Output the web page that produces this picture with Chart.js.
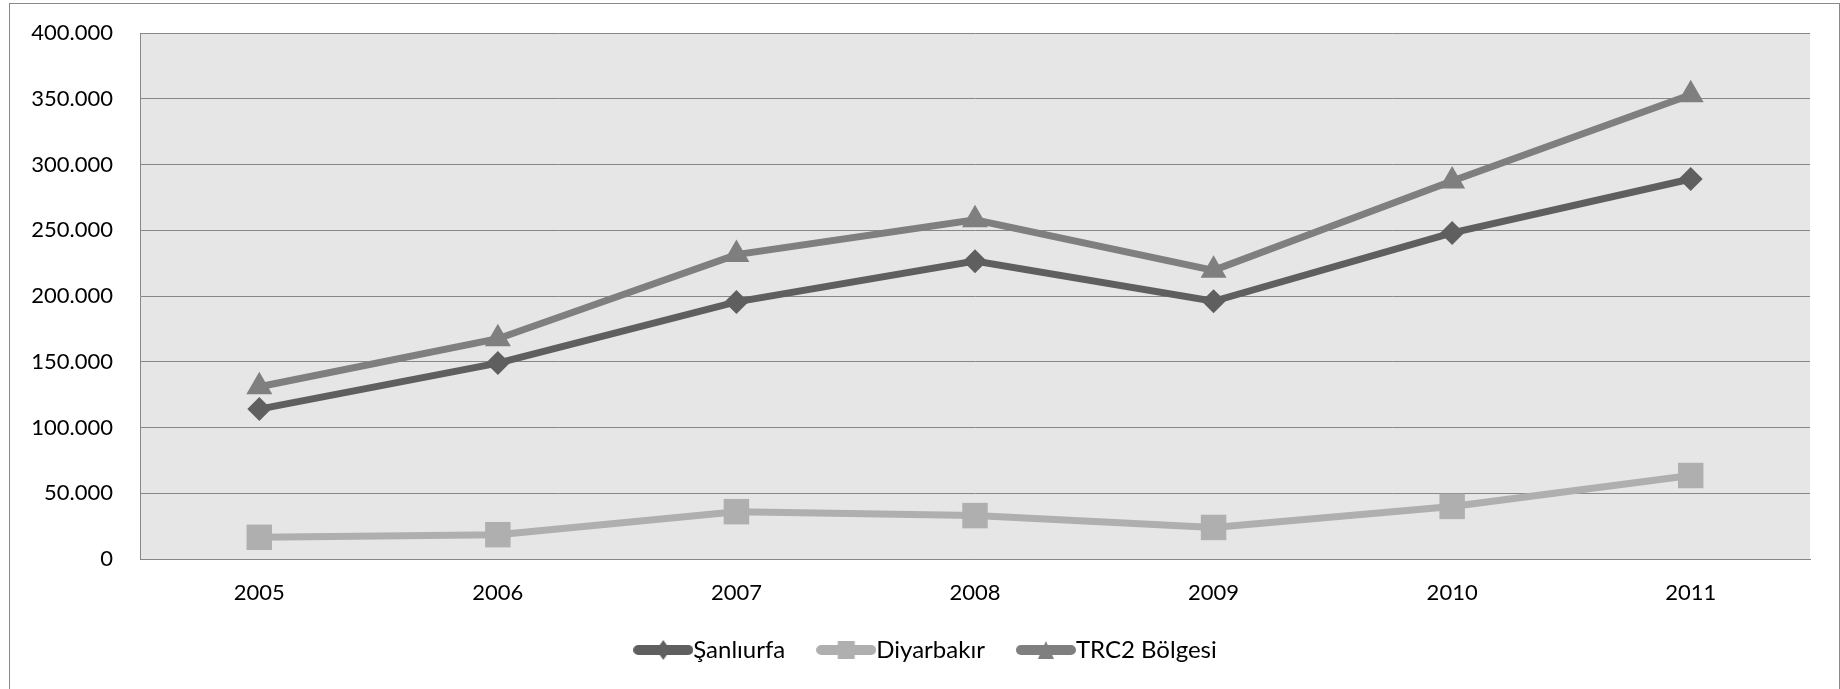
<!DOCTYPE html>
<html>
<head>
<meta charset="utf-8">
<script src="https://cdn.jsdelivr.net/npm/chart.js@4"></script>
<style>
html, body { margin: 0; padding: 0; background: #fff; }
#wrap { position: relative; width: 1840px; height: 689px; }
#frame { position: absolute; left: 9px; top: 3px; width: 1831px; height: 700px; border: 1px solid #8a8a8a; box-sizing: border-box; pointer-events: none; }
canvas { position: absolute; left: 0; top: 0; }
</style>
</head>
<body>
<div id="wrap"><canvas id="myChart" width="1840" height="689"></canvas><div id="frame"></div></div>
<script>
const years = ['2005', '2006', '2007', '2008', '2009', '2010', '2011'];
const sanliurfa = [114000, 149000, 195500, 226500, 196000, 248000, 289000];
const diyarbakir = [16500, 18500, 36000, 33000, 24000, 40000, 63500];
const trc2 = [131000, 167500, 231500, 258000, 219500, 287500, 353000];
const yTicks = [0, 50000, 100000, 150000, 200000, 250000, 300000, 350000, 400000];

const FONT = 'Lato';
const fmt = v => String(v).replace(/\B(?=(\d{3})+(?!\d))/g, '.');

// legend sample: thick rounded line with the marker in the middle
function legendIcon(color, shape) {
    const c = document.createElement('canvas');
    c.width = 60; c.height = 24;
    const g = c.getContext('2d');
    g.strokeStyle = color;
    g.fillStyle = color;
    g.lineWidth = 10;
    g.lineCap = 'round';
    g.beginPath(); g.moveTo(5, 12); g.lineTo(55, 12); g.stroke();
    g.beginPath();
    if (shape === 'diamond') {
        g.moveTo(30, 2); g.lineTo(37, 12); g.lineTo(30, 22); g.lineTo(23, 12);
    } else if (shape === 'square') {
        g.rect(21.5, 3, 17, 18);
    } else {
        g.moveTo(30, 3); g.lineTo(38, 21); g.lineTo(22, 21);
    }
    g.closePath(); g.fill();
    return c;
}

const plotBg = {
    id: 'plotBg',
    beforeDraw(chart) {
        const { ctx, chartArea: a } = chart;
        ctx.save();
        ctx.fillStyle = '#e6e6e6';
        ctx.fillRect(a.left, a.top, a.right - a.left, a.bottom - a.top);
        ctx.restore();
    }
};

// move the legend box to where the original has it
const legendShift = {
    id: 'legendShift',
    afterLayout(chart) {
        const l = chart.legend;
        const dy = -14, dx = 26;
        l.top += dy; l.bottom += dy;
        l.left += dx; l.right += dx;
    }
};

const ctx = document.getElementById('myChart').getContext('2d');
const myChart = new Chart(ctx, {
    type: 'line',
    data: {
        labels: years,
        datasets: [
            {
                label: 'Şanlıurfa',
                data: sanliurfa,
                borderColor: '#5f5f5f',
                backgroundColor: '#5f5f5f',
                pointStyle: 'rectRot',
                pointRadius: 12,
                icon: legendIcon('#5f5f5f', 'diamond'),
                order: 2
            },
            {
                label: 'Diyarbakır',
                data: diyarbakir,
                borderColor: '#afafaf',
                backgroundColor: '#afafaf',
                pointStyle: 'rect',
                pointRadius: 18,
                icon: legendIcon('#afafaf', 'square'),
                order: 1
            },
            {
                label: 'TRC2 Bölgesi',
                data: trc2,
                borderColor: '#7f7f7f',
                backgroundColor: '#7f7f7f',
                pointStyle: 'triangle',
                pointRadius: 15,
                icon: legendIcon('#7f7f7f', 'triangle'),
                order: 0
            }
        ]
    },
    options: {
        responsive: false,
        animation: false,
        elements: {
            line: { borderWidth: 7, tension: 0 },
            point: { borderWidth: 0, hoverRadius: 12 }
        },
        layout: { padding: { top: 33, left: 0, right: 30, bottom: 3 } },
        scales: {
            x: {
                offset: true,
                grid: { display: false, drawTicks: false },
                border: { display: true, color: '#878787', width: 1 },
                ticks: { color: '#000', font: { family: FONT, size: 22 }, padding: 21 },
                afterFit: s => { s.height = 50; }
            },
            y: {
                min: 0,
                max: 400000,
                afterBuildTicks: s => { s.ticks = yTicks.map(v => ({ value: v })); },
                grid: { color: '#878787', lineWidth: 1, drawTicks: true, tickLength: 22, tickColor: 'rgba(0,0,0,0)' },
                border: { display: true, color: '#878787', width: 1 },
                ticks: {
                    color: '#000',
                    font: { family: FONT, size: 22 },
                    padding: 5,
                    callback: v => fmt(v)
                },
                afterFit: s => { s.width = 140; }
            }
        },
        plugins: {
            legend: {
                position: 'bottom',
                labels: {
                    usePointStyle: true,
                    pointStyleWidth: 36,
                    padding: 43,
                    color: '#000',
                    font: { family: FONT, size: 24 },
                    sort: (a, b) => a.datasetIndex - b.datasetIndex,
                    generateLabels: chart => {
                        const items = Chart.defaults.plugins.legend.labels.generateLabels(chart);
                        items.forEach(it => { it.pointStyle = chart.data.datasets[it.datasetIndex].icon; });
                        return items;
                    }
                }
            },
            tooltip: { enabled: false }
        }
    },
    plugins: [plotBg, legendShift]
});
</script>
</body>
</html>
